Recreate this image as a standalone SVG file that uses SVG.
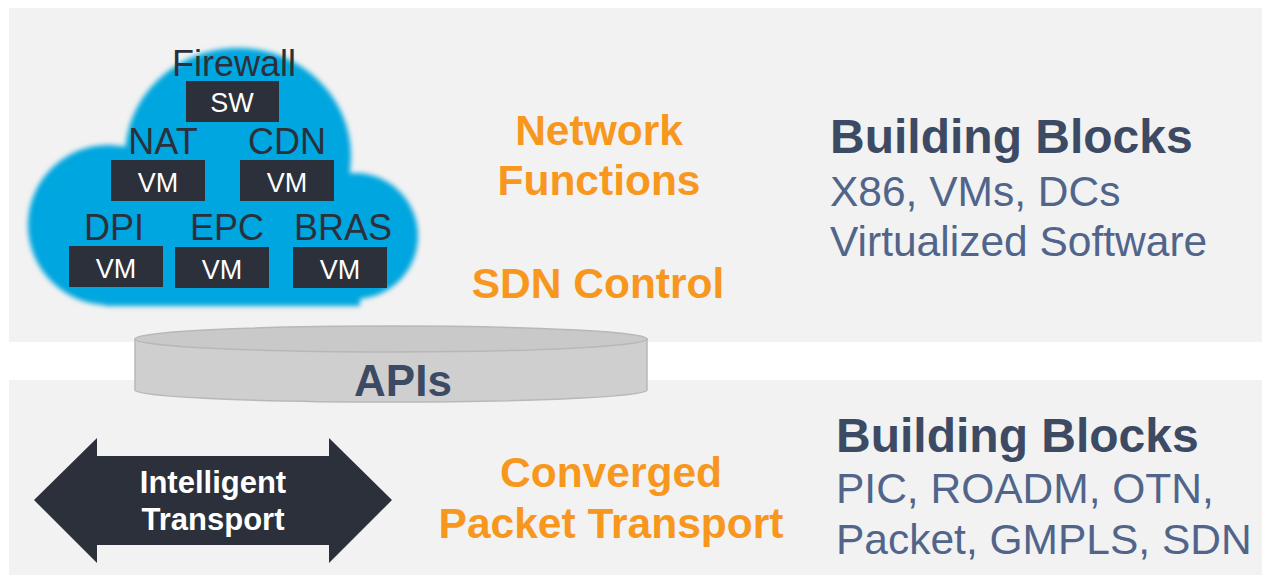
<svg xmlns="http://www.w3.org/2000/svg" width="1264" height="583" viewBox="0 0 1264 583">
<style>
.lbl{font-family:"Liberation Sans",Arial,sans-serif;font-size:36px;fill:#2b303b;text-anchor:middle}
.box{fill:#2b303b}
.bt{font-family:"Liberation Sans",Arial,sans-serif;font-size:27px;fill:#ffffff;text-anchor:middle}
.or{font-family:"Liberation Sans",Arial,sans-serif;font-size:42.5px;font-weight:bold;fill:#f7971e;text-anchor:middle}
.hd{font-family:"Liberation Sans",Arial,sans-serif;font-size:48px;font-weight:bold;fill:#3d4a63}
.sub{font-family:"Liberation Sans",Arial,sans-serif;font-size:42.5px;fill:#51658a}
</style>
<defs>
<filter id="soft" x="-10%" y="-10%" width="120%" height="120%"><feGaussianBlur stdDeviation="2.5"/></filter>
</defs>
<rect width="1264" height="583" fill="#ffffff"/>
<rect id="panel-top" x="9" y="8" width="1253" height="334" fill="#f2f2f2"/>
<rect id="panel-bottom" x="9" y="380" width="1253" height="195" fill="#f2f2f2"/>

<g id="cloud" fill="#00a6df" filter="url(#soft)">
<ellipse cx="238" cy="156" rx="113" ry="108"/>
<circle cx="108" cy="225" r="80"/>
<circle cx="355" cy="236" r="63"/>
<rect x="105" y="180" width="255" height="126"/>
</g>

<g id="firewall"><text class="lbl" x="234" y="76">Firewall</text><rect class="box" x="186" y="81" width="93" height="41"/><text class="bt" x="232" y="112">SW</text></g>
<g id="nat"><text class="lbl" x="163" y="154">NAT</text><rect class="box" x="111" y="160" width="94" height="41"/><text class="bt" x="158" y="192">VM</text></g>
<g id="cdn"><text class="lbl" x="287" y="154">CDN</text><rect class="box" x="240" y="160" width="94" height="41"/><text class="bt" x="287" y="192">VM</text></g>
<g id="dpi"><text class="lbl" x="114" y="240">DPI</text><rect class="box" x="69" y="246" width="94" height="41"/><text class="bt" x="116" y="278">VM</text></g>
<g id="epc"><text class="lbl" x="227" y="240">EPC</text><rect class="box" x="175" y="247" width="94" height="41"/><text class="bt" x="222" y="279">VM</text></g>
<g id="bras"><text class="lbl" x="343" y="240">BRAS</text><rect class="box" x="293" y="247" width="94" height="41"/><text class="bt" x="340" y="279">VM</text></g>

<g id="network-functions"><text class="or" x="599" y="145">Network</text><text class="or" x="599" y="195">Functions</text></g>
<g id="sdn-control"><text class="or" x="598" y="298">SDN Control</text></g>

<g id="apis">
<path d="M135,339 L135,390 A256,12 0 0 0 647,390 L647,339 Z" fill="#cfcfcf" stroke="#b8b8b8" stroke-width="1.5"/>
<ellipse cx="391" cy="339" rx="256" ry="13" fill="#c9c9c9" stroke="#b8b8b8" stroke-width="1.5"/>
<text x="403" y="396" font-family="'Liberation Sans',Arial,sans-serif" font-size="44" font-weight="bold" fill="#3d4a63" text-anchor="middle">APIs</text>
</g>

<g id="bb-top"><text class="hd" x="830" y="153">Building Blocks</text><text class="sub" x="830" y="206">X86, VMs, DCs</text><text class="sub" x="830" y="256">Virtualized Software</text></g>

<g id="intelligent-transport">
<polygon points="34,500 97,438 97,456 329,456 329,438 392,500 329,563 329,545 97,545 97,563" fill="#2b303b"/>
<text x="213" y="493" font-family="'Liberation Sans',Arial,sans-serif" font-size="31" font-weight="bold" fill="#ffffff" text-anchor="middle">Intelligent</text>
<text x="213" y="530" font-family="'Liberation Sans',Arial,sans-serif" font-size="31" font-weight="bold" fill="#ffffff" text-anchor="middle">Transport</text>
</g>

<g id="converged"><text class="or" x="611" y="487">Converged</text><text class="or" x="611" y="538">Packet Transport</text></g>

<g id="bb-bottom"><text class="hd" x="836" y="452">Building Blocks</text><text class="sub" x="836" y="503">PIC, ROADM, OTN,</text><text class="sub" x="836" y="554">Packet, GMPLS, SDN</text></g>
<g id="connectors"/>
</svg>
